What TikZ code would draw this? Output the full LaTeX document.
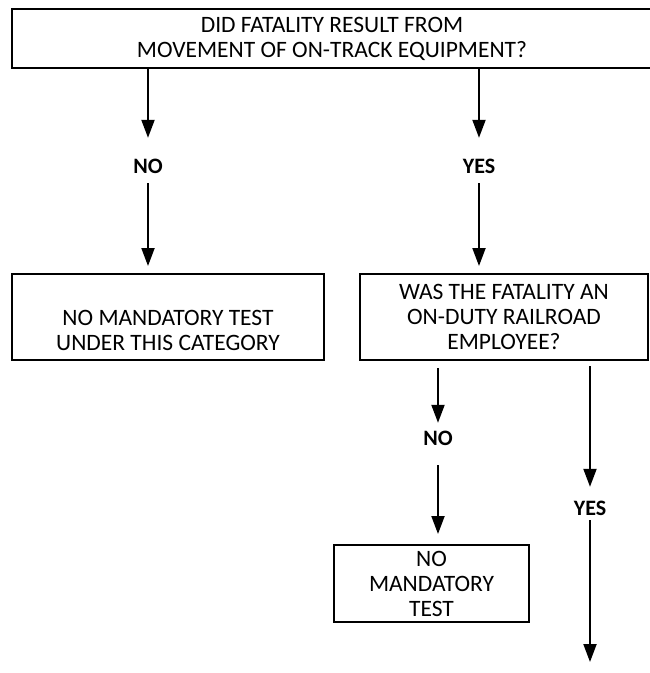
\documentclass[tikz,border=0pt]{standalone}
\usepackage{fontspec}
\setmainfont{Carlito}
\usetikzlibrary{arrows.meta}
\begin{document}
\begin{tikzpicture}[x=1pt,y=-1pt,
  box/.style={draw, line width=2pt, inner sep=0pt, align=center, font=\fontsize{23.5}{25}\selectfont},
  lbl/.style={inner sep=0pt, minimum height=28pt, font=\fontsize{22}{24}\selectfont\bfseries},
  arr/.style={line width=2pt, -{Triangle[width=13pt,length=18pt]}}]
\useasboundingbox (0,0) rectangle (650,673);
\node[box, minimum width=640pt, minimum height=59pt] (top) at (332,38.5) {DID FATALITY RESULT FROM\\MOVEMENT OF ON-TRACK EQUIPMENT?};
\node[lbl] (no1) at (148,166) {NO};
\node[lbl] (yes1) at (479,166) {YES};
\node[box, minimum width=312pt, minimum height=86pt] (left) at (168,317) {\strut\\NO MANDATORY TEST\\UNDER THIS CATEGORY};
\node[box, minimum width=288pt, minimum height=86pt] (right) at (504,317) {WAS THE FATALITY AN\\ON-DUTY RAILROAD\\EMPLOYEE?};
\node[lbl] (no2) at (438,438) {NO};
\node[lbl] (yes2) at (590,508) {YES};
\node[box, minimum width=195pt, minimum height=77pt] (small) at (431.5,583.5) {NO\\MANDATORY\\TEST};
\coordinate (end) at (590,662);
\draw[arr, shorten >=14pt] (top.south -| no1) -- (no1.north);
\draw[arr, shorten <=3pt, shorten >=7pt] (no1.south) -- (left.north -| no1);
\draw[arr, shorten >=14pt] (top.south -| yes1) -- (yes1.north);
\draw[arr, shorten <=3pt, shorten >=7pt] (yes1.south) -- (right.north -| yes1);
\draw[arr, shorten <=7pt, shorten >=1pt] (right.south -| no2) -- (no2.north);
\draw[arr, shorten <=13pt, shorten >=10pt] (no2.south) -- (small.north -| no2);
\draw[arr, shorten <=5pt, shorten >=7pt] (right.south -| yes2) -- (yes2.north);
\draw[arr, shorten <=-2pt] (yes2.south) -- (end);
\end{tikzpicture}
\end{document}
